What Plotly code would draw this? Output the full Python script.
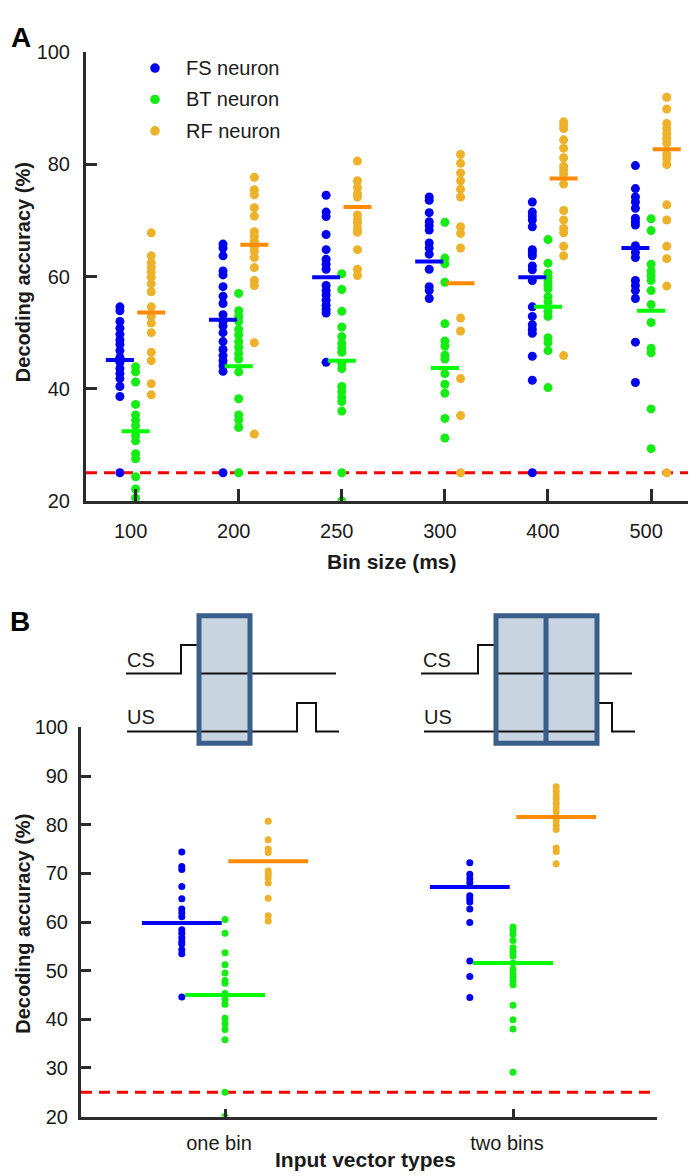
import plotly.graph_objects as go

# ---------------- data: panel A ----------------
bins = ["100", "200", "250", "300", "400", "500"]

fs_a = [
    [54.6, 53.9, 52.0, 50.8, 49.7, 48.7, 47.9, 46.8, 45.6, 44.7, 43.6, 42.7, 41.8, 40.4, 38.6, 25.0],
    [65.8, 65.1, 63.7, 61.0, 60.3, 58.2, 56.5, 55.2, 53.2, 52.0, 51.2, 50.0, 48.4, 47.0, 45.9, 45.0, 44.1, 43.1, 25.0],
    [74.5, 71.5, 70.7, 67.5, 64.8, 63.1, 62.2, 61.3, 58.4, 57.5, 56.7, 55.8, 54.9, 54.1, 53.5, 44.7],
    [74.2, 73.6, 71.4, 69.8, 69.1, 68.3, 66.0, 65.1, 64.0, 61.3, 58.2, 57.5, 56.1],
    [73.3, 71.5, 70.8, 70.1, 68.9, 64.8, 64.3, 63.7, 61.9, 61.2, 59.3, 54.6, 52.9, 51.4, 50.6, 49.9, 45.8, 41.5, 25.0],
    [79.8, 75.7, 74.2, 73.3, 72.2, 70.4, 69.8, 69.2, 65.5, 64.3, 63.4, 59.3, 58.4, 57.5, 56.1, 48.3, 41.1],
]
bt_a = [
    [43.9, 43.0, 41.2, 37.2, 35.3, 34.4, 33.4, 31.6, 30.7, 28.4, 27.5, 24.3, 22.1, 20.5],
    [57.0, 53.9, 52.9, 52.0, 50.6, 49.6, 48.4, 47.4, 46.3, 45.3, 43.0, 38.2, 35.3, 34.4, 33.1, 25.0],
    [60.5, 57.7, 53.8, 51.0, 49.3, 48.1, 47.2, 46.5, 44.5, 43.6, 40.4, 39.5, 38.5, 37.7, 36.0, 25.0, 20.0],
    [69.7, 63.3, 62.3, 59.0, 51.6, 48.5, 47.6, 46.0, 45.3, 42.7, 40.8, 39.2, 34.7, 31.2],
    [66.6, 62.4, 60.6, 59.9, 59.2, 58.4, 57.8, 56.4, 55.5, 53.8, 52.9, 49.1, 48.2, 46.8, 40.2],
    [70.3, 68.2, 62.2, 61.0, 60.2, 59.3, 57.5, 55.0, 51.8, 47.2, 46.4, 36.4, 29.3],
]
rf_a = [
    [67.8, 63.7, 62.5, 61.6, 60.8, 59.9, 58.7, 57.3, 54.6, 52.9, 51.7, 50.0, 46.5, 45.0, 40.9, 38.9],
    [77.7, 75.5, 74.6, 72.3, 70.8, 68.0, 67.2, 66.3, 65.3, 64.5, 63.4, 61.6, 59.3, 58.4, 48.2, 31.9],
    [80.6, 77.1, 75.9, 74.8, 74.2, 71.0, 70.1, 69.5, 68.6, 67.9, 64.8, 61.3, 60.2],
    [81.8, 80.2, 78.5, 77.1, 75.6, 74.2, 68.9, 67.7, 65.1, 52.6, 50.3, 41.8, 35.2, 25.0],
    [87.6, 87.0, 86.4, 84.4, 82.9, 81.2, 79.7, 79.0, 78.3, 76.5, 71.8, 70.1, 68.6, 67.8, 65.4, 63.7, 45.9],
    [92.0, 89.9, 87.3, 86.4, 85.5, 84.7, 83.8, 81.8, 81.0, 80.0, 72.8, 70.1, 65.4, 63.2, 58.3, 25.0],
]
fs_a_mean = [45.1, 52.3, 59.9, 62.7, 59.9, 65.1]
bt_a_mean = [32.4, 44.0, 45.0, 43.7, 54.6, 53.9]
rf_a_mean = [53.6, 65.7, 72.4, 58.8, 77.5, 82.7]

# ---------------- data: panel B ----------------
vec_types = ["one bin", "two bins"]
fs_b = [
    [74.4, 71.4, 70.8, 67.3, 64.8, 62.7, 61.9, 61.1, 58.4, 57.7, 56.8, 56.0, 55.5, 54.3, 53.5, 44.6],
    [72.2, 69.8, 68.9, 68.1, 65.4, 64.8, 64.1, 62.7, 59.9, 52.0, 48.8, 44.5],
]
bt_b = [
    [60.5, 57.7, 53.7, 51.2, 49.5, 48.0, 47.4, 45.3, 44.1, 43.1, 40.2, 39.1, 37.9, 35.8, 25.0, 20.0],
    [59.0, 58.4, 57.5, 56.2, 54.7, 53.9, 53.0, 51.6, 50.3, 49.3, 48.6, 47.9, 47.1, 42.9, 39.9, 38.0, 29.1],
]
rf_b = [
    [80.7, 76.9, 75.0, 74.3, 70.5, 69.8, 69.1, 68.0, 64.9, 61.3, 60.2],
    [87.8, 86.9, 86.1, 85.3, 84.4, 83.5, 82.6, 80.9, 79.9, 79.0, 75.2, 74.5, 72.0],
]
fs_b_mean = [59.8, 67.2]
bt_b_mean = [45.0, 51.6]
rf_b_mean = [72.5, 81.6]

chance = 25
labels = ["FS neuron", "BT neuron", "RF neuron"]

# ---------------- style ----------------
W, H = 696, 1176
def fx(p):
    return p / W
def fy(p):
    return 1 - p / H

DOT = ["#0000F0", "#14EC14", "#EDB12A"]
BAR = ["#0000FF", "#00FF00", "#FF8A00"]
AXC = "#2b2b2b"
TXT = "#1a1a1a"
FONT = "Liberation Sans, Arial, sans-serif"

fig = go.Figure()

# panel A dots + means
offA = [-0.152, 0.0, 0.152]
for k, vals in enumerate([fs_a, bt_a, rf_a]):
    xs, ys = [], []
    for i, col in enumerate(vals):
        xs += [i + 1 + offA[k]] * len(col)
        ys += col
    fig.add_trace(go.Scatter(x=xs, y=ys, mode="markers", xaxis="x", yaxis="y",
                             marker=dict(size=9, color=DOT[k]), showlegend=False, name=labels[k]))
for k, means in enumerate([fs_a_mean, bt_a_mean, rf_a_mean]):
    fig.add_trace(go.Scatter(x=[i + 1 + offA[k] for i in range(len(means))], y=means, mode="markers",
                             xaxis="x", yaxis="y",
                             marker=dict(symbol="line-ew", size=20, line=dict(width=4, color=BAR[k])),
                             showlegend=False))

# panel B dots + means
offB = [-0.15, 0.0, 0.15]
for k, vals in enumerate([fs_b, bt_b, rf_b]):
    xs, ys = [], []
    for i, col in enumerate(vals):
        xs += [i + 1 + offB[k]] * len(col)
        ys += col
    fig.add_trace(go.Scatter(x=xs, y=ys, mode="markers", xaxis="x2", yaxis="y2",
                             marker=dict(size=7, color=DOT[k]), showlegend=False))
for k, means in enumerate([fs_b_mean, bt_b_mean, rf_b_mean]):
    fig.add_trace(go.Scatter(x=[i + 1 + offB[k] for i in range(len(means))], y=means, mode="markers",
                             xaxis="x2", yaxis="y2",
                             marker=dict(symbol="line-ew", size=57, line=dict(width=4, color=BAR[k])),
                             showlegend=False))

shapes = []
for xr, yr in [("x", "y"), ("x2", "y2")]:
    shapes.append(dict(type="line", xref=xr + " domain", yref=yr, x0=0, x1=1, y0=chance, y1=chance,
                       line=dict(color="#FF0000", width=3, dash="11px,7px"), layer="below"))

annotations = []
def ann(x, y, text, size, bold=False, xanchor="center", angle=0, color=TXT):
    annotations.append(dict(x=fx(x), y=fy(y), xref="paper", yref="paper",
                            text=f"<b>{text}</b>" if bold else text,
                            showarrow=False, xanchor=xanchor, yanchor="middle", textangle=angle,
                            font=dict(size=size, color=color, family=FONT)))

# legend (manual)
for k, yy in enumerate([50, 82, 114]):
    shapes.append(dict(type="circle", xref="paper", yref="paper", xsizemode="pixel", ysizemode="pixel",
                       xanchor=fx(147), yanchor=fy(yy), x0=-4.8, x1=4.8, y0=-4.8, y1=4.8,
                       fillcolor=DOT[k], line=dict(width=0)))
    ann(176, yy, labels[k], 20, xanchor="left")

# diagrams in panel B
BOXC = "#3A5E8A"
FILL = "#C9D4E1"
def P(pts):
    s = ""
    for j, (a, b) in enumerate(pts):
        s += ("M" if j == 0 else "L") + f"{fx(a):.5f},{fy(b):.5f} "
    return s

boxes = [(191, 242, None), (488, 589, 538)]
for (x0, x1, mid) in boxes:
    shapes.append(dict(type="rect", xref="paper", yref="paper", x0=fx(x0), x1=fx(x1), y0=fy(738), y1=fy(608),
                       fillcolor=FILL, line=dict(width=0)))
sig = [
    [(118, 667), (173, 667), (173, 638), (191, 638), (191, 667), (328, 667)],
    [(119, 726), (289, 726), (289, 697), (308, 697), (308, 726), (331, 726)],
    [(413, 667), (470, 667), (470, 638), (488, 638), (488, 667), (624, 667)],
    [(416, 726), (589, 726), (589, 697), (604, 697), (604, 726), (627, 726)],
]
for pts in sig:
    shapes.append(dict(type="path", xref="paper", yref="paper", path=P(pts),
                       line=dict(color="#111111", width=2)))
for (x0, x1, mid) in boxes:
    shapes.append(dict(type="rect", xref="paper", yref="paper", x0=fx(x0), x1=fx(x1), y0=fy(738), y1=fy(608),
                       line=dict(color=BOXC, width=5)))
    if mid:
        shapes.append(dict(type="line", xref="paper", yref="paper", x0=fx(mid), x1=fx(mid), y0=fy(738), y1=fy(608),
                           line=dict(color=BOXC, width=5)))

for (tx, ty, t) in [(133, 653, "CS"), (133, 711, "US"), (429, 653, "CS"), (430, 711, "US")]:
    ann(tx, ty, t, 20)

ann(13, 19, "A", 28, bold=True, color="#000")
ann(12, 614, "B", 28, bold=True, color="#000")
ann(15, 258, "Decoding accuracy (%)", 20, bold=True, angle=-90)
ann(15, 922, "Decoding accuracy (%)", 20, bold=True, angle=-90)
ann(384, 553, "Bin size (ms)", 21, bold=True)
ann(357, 1162, "Input vector types", 21, bold=True)

axis_common = dict(showline=True, linewidth=3, linecolor=AXC, ticks="inside", tickwidth=3, tickcolor=AXC,
                   showgrid=False, zeroline=False, tickfont=dict(size=20, color=TXT, family=FONT))

fig.update_layout(
    width=W, height=H, margin=dict(l=0, r=0, t=0, b=0),
    paper_bgcolor="white", plot_bgcolor="white", showlegend=False,
    xaxis=dict(domain=[fx(78), fx(690)], range=[0.519, 6.455], tickvals=list(range(1, 7)), ticktext=bins,
               ticklen=12, anchor="y", ticklabelshift=-5, ticklabelstandoff=10, **axis_common),
    yaxis=dict(domain=[fy(491), fy(34)], range=[20, 100], tickvals=[20, 40, 60, 80, 100],
               ticklen=11, anchor="x", ticklabelstandoff=9, **axis_common),
    xaxis2=dict(domain=[fx(73), fx(649)], range=[0.5, 2.5], tickvals=[1, 2], ticktext=vec_types,
                ticklen=8, anchor="y2", ticklabelshift=-6, ticklabelstandoff=6, **axis_common),
    yaxis2=dict(domain=[fy(1118.5), fy(722)], range=[20, 100], tickvals=list(range(20, 101, 10)),
                ticklen=10, anchor="x2", ticklabelstandoff=6, **axis_common),
    shapes=shapes, annotations=annotations,
)

fig.write_html("out.html")
